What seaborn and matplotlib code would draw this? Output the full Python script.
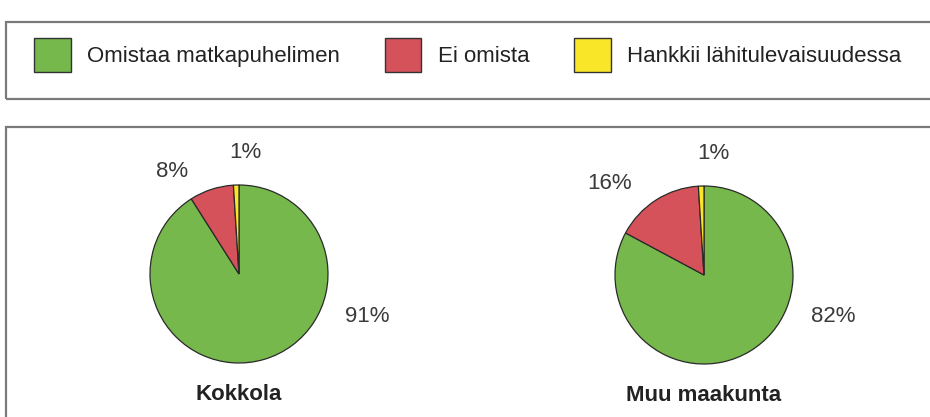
import matplotlib
matplotlib.use("Agg")
import matplotlib.pyplot as plt
from matplotlib.patches import Rectangle, Patch
import seaborn as sns

# Data
categories = ["Omistaa matkapuhelimen", "Ei omista", "Hankkii lähitulevaisuudessa"]
regions = ["Kokkola", "Muu maakunta"]
kokkola = [91, 8, 1]
muu_maakunta = [82, 16, 1]
colors = ["#76b84c", "#d5525a", "#fae628"]

# Label layout (in pie-radius units, relative to pie centre)
label_pos = [
    [(1.44, -0.48), (-0.75, 1.15), (0.07, 1.36)],
    [(1.45, -0.47), (-1.06, 1.03), (0.10, 1.37)],
]

sns.set_theme(style="white")
plt.rcParams["font.family"] = ["Liberation Sans", "DejaVu Sans"]

W, H = 930, 417
fig = plt.figure(figsize=(9.3, 4.17), dpi=100)

# Frames: legend box and chart box
box_kw = dict(transform=fig.transFigure, fill=False, edgecolor="#7a7a7a", lw=1.6)
fig.patches.append(Rectangle((6 / W, 1 - 99 / H), 1.0, 77 / H, **box_kw))
fig.patches.append(Rectangle((6 / W, -0.1), 1.0, (417 - 127) / H + 0.1, **box_kw))

# Legend
handles = [Patch(facecolor=c, edgecolor="#333333", lw=1.0) for c in colors]
fig.legend(handles, categories, loc="center left", bbox_to_anchor=(34 / W, 1 - 55 / H),
           ncol=3, frameon=False, fontsize=16, borderpad=0, borderaxespad=0,
           handlelength=1.65, handleheight=1.95, handletextpad=0.75, columnspacing=2.0,
           labelcolor="#222222")

# Pies
r_px = 89
half = 165
centres = [(239, 274), (704, 275)]
for name, values, pos, (cx, cy) in zip(regions, [kokkola, muu_maakunta], label_pos, centres):
    ax = fig.add_axes([(cx - half) / W, (H - cy - half) / H, 2 * half / W, 2 * half / H])
    ax.pie(values, colors=colors, startangle=90, counterclock=False,
           wedgeprops=dict(edgecolor="#2a2a2a", linewidth=0.9))
    lim = half / r_px
    ax.set_xlim(-lim, lim)
    ax.set_ylim(-lim, lim)
    ax.set_aspect("equal")
    ax.axis("off")
    for v, (x, y) in zip(values, pos):
        ax.text(x, y, f"{v}%", ha="center", va="center", fontsize=16, color="#3a3a3a")
    ax.text(0, -1.35, name, ha="center", va="center", fontsize=16,
            fontweight="bold", color="#222222")

fig.savefig("out.png", dpi=100)
